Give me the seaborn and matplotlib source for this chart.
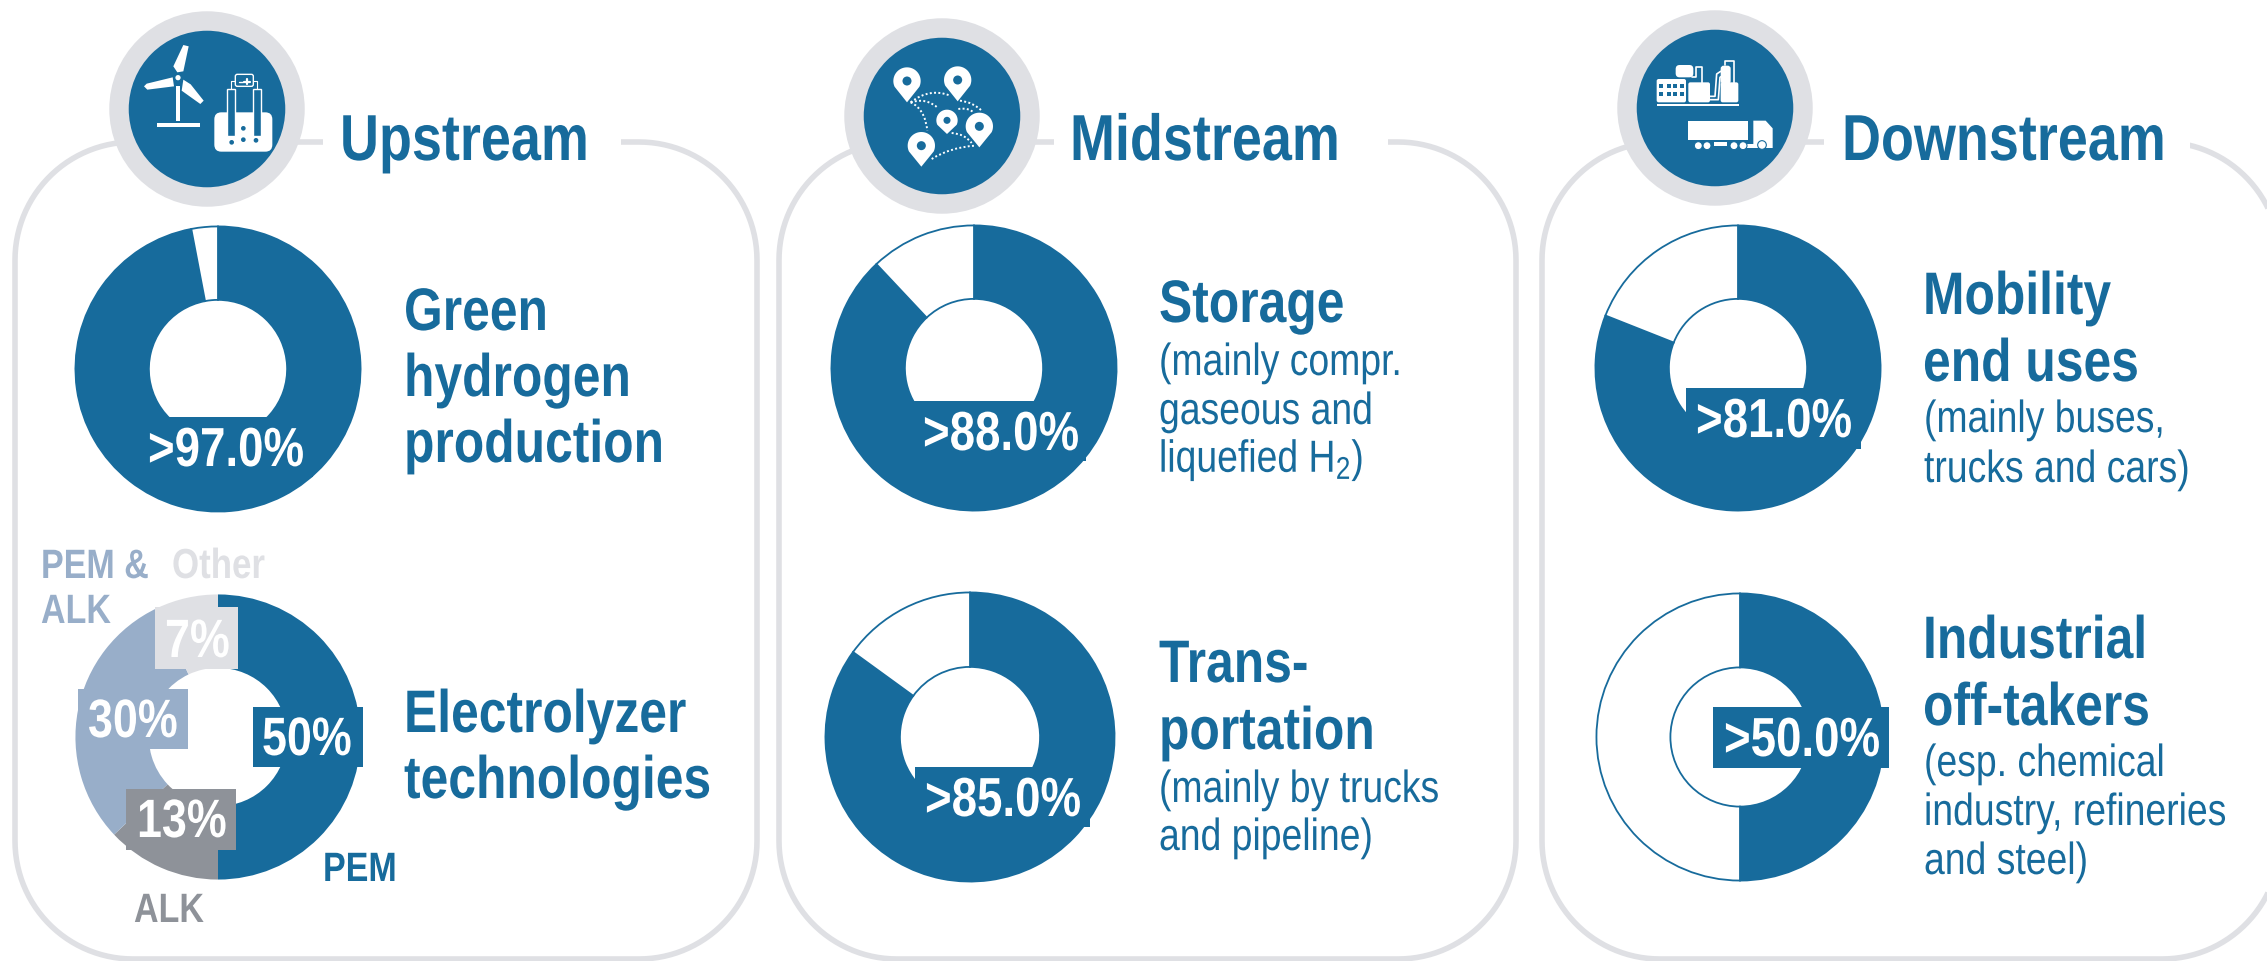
import numpy as np
import matplotlib
matplotlib.use("Agg")
import matplotlib.pyplot as plt
import seaborn as sns
import warnings
from matplotlib.patches import Circle, Rectangle, FancyBboxPatch, Polygon, PathPatch
from matplotlib.patheffects import AbstractPathEffect
from matplotlib.path import Path
from matplotlib.transforms import Affine2D
warnings.filterwarnings("ignore")

W, H = 2267, 962

# shares (clockwise from 12 o'clock)
green_h2 = [97, 3]
storage = [88, 12]
transport = [85, 15]
mobility = [81, 19]
industrial = [50, 50]
electrolyzer_names = ["PEM", "ALK", "PEM & ALK", "Other"]
electrolyzer_shares = [50, 13, 30, 7]
electrolyzer_labels = ["50%", "13%", "30%", "7%"]

sns.set_theme(style="white")
plt.rcParams['font.family'] = ['Liberation Sans', 'DejaVu Sans']
plt.rcParams['mathtext.default'] = 'regular'

BLUE = "#176B9C"
GREY = "#DFE0E4"
NARROW = 0.83  # the reference type is condensed, no narrow font here
tech_colors = sns.color_palette([BLUE, "#8E9299", "#98AEC9", GREY])

fig = plt.figure(figsize=(W / 100, H / 100), dpi=100, facecolor="white")


def pixel_axes(z):
    ax = fig.add_axes([0, 0, 1, 1], zorder=z)
    ax.set_xlim(0, W)
    ax.set_ylim(H, 0)
    ax.axis("off")
    return ax


bg = pixel_axes(0)
fg = pixel_axes(2)


class Tall(AbstractPathEffect):
    # font set at NARROW x size, glyphs stretched back up from the baseline
    def __init__(self, y0):
        super().__init__()
        self.y0 = y0

    def draw_path(self, renderer, gc, tpath, affine, rgbFace=None):
        tall = Affine2D().translate(0, -self.y0).scale(1, 1 / NARROW).translate(0, self.y0)
        renderer.draw_path(gc, tpath, affine + tall, rgbFace)


def donut(cx, cy, r, values, colors, edge=None):
    ax = fig.add_axes([(cx - r) / W, 1 - (cy + r) / H, 2 * r / W, 2 * r / H], zorder=1)
    ax.patch.set_alpha(0)
    wp = dict(width=0.51, linewidth=0)
    if edge:
        wp = dict(width=0.51, linewidth=1.3, edgecolor=edge)
    ax.pie(values, colors=colors, startangle=90, counterclock=False, radius=0.99,
           wedgeprops=wp)
    ax.set_xlim(-1, 1)
    ax.set_ylim(-1, 1)


def txt(x, y, s, size, color=BLUE, weight="bold"):
    # x = left edge, y = baseline, size in pixels
    fg.text(x, y, s, fontsize=size * 0.72 * NARROW, color=color, fontweight=weight,
            ha="left", va="baseline", path_effects=[Tall(H - y)])


def box(x0, y0, x1, y1, color=BLUE):
    fg.add_patch(Rectangle((x0, y0), x1 - x0, y1 - y0, fc=color, ec="none", zorder=1))


def panel(x0, x1, y0=143, y1=960, r=118):
    t = np.linspace(0, np.pi / 2, 30)
    c, s = r * np.cos(t), r * np.sin(t)
    xs = np.r_[x1 - r + c, x0 + r - s, x0 + r - c, x1 - r + s]
    ys = np.r_[y1 - r + s, y1 - r + c, y0 + r - s, y0 + r - c]
    bg.add_patch(Polygon(np.c_[xs, ys], closed=True, fc="none", ec=GREY, lw=4, zorder=1))


# panels
for x0, x1, gap0, gap1 in [(15, 757, 323, 621), (779, 1516, 1054, 1388), (1542, 2280, 1824, 2190)]:
    panel(x0, x1)
    bg.add_patch(Rectangle((gap0, 130), gap1 - gap0, 26, fc="white", ec="none", zorder=2))

# rings
donut(218, 370, 144, green_h2, [BLUE, "white"], edge=BLUE)
donut(218, 738, 144, electrolyzer_shares, tech_colors)
donut(974, 369, 144, storage, [BLUE, "white"], edge=BLUE)
donut(970, 738, 146, transport, [BLUE, "white"], edge=BLUE)
donut(1738, 369, 144, mobility, [BLUE, "white"], edge=BLUE)
donut(1740, 738, 145, industrial, [BLUE, "white"], edge=BLUE)

# stage headings
txt(340, 161, "Upstream", 65)
txt(1070, 161, "Midstream", 65)
txt(1842, 161, "Downstream", 65)

# value tags
box(128, 418, 313, 478)
txt(148, 467, ">97.0%", 55, "white")
box(905, 402, 1086, 462)
txt(923, 451, ">88.0%", 55, "white")
box(915, 768, 1090, 828)
txt(925, 817, ">85.0%", 55, "white")
box(1686, 389, 1861, 450)
txt(1696, 438, ">81.0%", 55, "white")
box(1713, 708, 1889, 769)
txt(1724, 757, ">50.0%", 55, "white")

tag_boxes = [(253, 708, 363, 768), (126, 790, 236, 851), (78, 690, 188, 750), (155, 608, 238, 670)]
tag_text = [(262, 756), (137, 838), (88, 738), (165, 658)]
for b, t, c, s in zip(tag_boxes, tag_text, tech_colors, electrolyzer_labels):
    box(*b, color=c)
    txt(t[0], t[1], s, 54, "white")

# ring names
txt(323, 882, electrolyzer_names[0], 41, BLUE)
txt(134, 923, electrolyzer_names[1], 41, tech_colors[1])
txt(41, 579, "PEM &", 41, tech_colors[2])
txt(41, 624, "ALK", 41, tech_colors[2])
txt(172, 579, electrolyzer_names[3], 42, tech_colors[3])

# descriptions
for y, s in [(331, "Green"), (397, "hydrogen"), (463, "production"),
             (733, "Electrolyzer"), (799, "technologies")]:
    txt(404, y, s, 60)
txt(1159, 323, "Storage", 60)
for y, s in [(376, "(mainly compr."), (425, "gaseous and"), (473, "liquefied H$_{2}$)")]:
    txt(1159, y, s, 45, weight="normal")
txt(1159, 683, "Trans-", 60)
txt(1159, 750, "portation", 60)
for y, s in [(803, "(mainly by trucks"), (851, "and pipeline)")]:
    txt(1159, y, s, 45, weight="normal")
txt(1923, 315, "Mobility", 60)
txt(1923, 382, "end uses", 60)
for y, s in [(433, "(mainly buses,"), (483, "trucks and cars)")]:
    txt(1924, y, s, 45, weight="normal")
txt(1923, 659, "Industrial", 60)
txt(1923, 726, "off-takers", 60)
for y, s in [(777, "(esp. chemical"), (826, "industry, refineries"), (875, "and steel)")]:
    txt(1924, y, s, 45, weight="normal")

# icon discs
for cx, cy in [(207, 110), (942, 117), (1715, 109)]:
    bg.add_patch(Circle((cx, cy), 88, fc=BLUE, ec=GREY, lw=14, zorder=3))


# icons, sketched in 3x crop coordinates
def rect(o, x0, y0, x1, y1, fc="white", ec="none", lw=0, rad=0):
    ox, oy = o
    xy = (ox + x0 / 3, oy + y0 / 3)
    w, h = (x1 - x0) / 3, (y1 - y0) / 3
    if rad:
        p = FancyBboxPatch((xy[0] + rad, xy[1] + rad), w - 2 * rad, h - 2 * rad,
                           boxstyle=f"round,pad={rad},rounding_size={rad}",
                           fc=fc, ec=ec, lw=lw, zorder=4)
    else:
        p = Rectangle(xy, w, h, fc=fc, ec=ec, lw=lw, zorder=4)
    bg.add_patch(p)


def poly(o, pts, fc="white"):
    pts = np.array(pts) / 3 + np.array(o)
    bg.add_patch(Polygon(pts, closed=True, fc=fc, ec="none", zorder=4))


def dot(o, x, y, r, fc=BLUE, ec="none", lw=0):
    bg.add_patch(Circle((o[0] + x / 3, o[1] + y / 3), r / 3, fc=fc, ec=ec, lw=lw, zorder=5))


def wire(o, pts, lw=1.2):
    pts = np.array(pts) / 3 + np.array(o)
    bg.plot(pts[:, 0], pts[:, 1], color="white", lw=lw, zorder=5, solid_capstyle="round")


# turbine + electrolyzer
o = (100, 10)
rect(o, 228, 232, 241, 335)
rect(o, 170, 343, 300, 353)
poly(o, [(220, 172), (250, 108), (266, 112), (250, 187), (232, 190)])
poly(o, [(132, 232), (140, 224), (218, 205), (222, 232), (142, 242)])
poly(o, [(250, 212), (272, 226), (311, 275), (301, 285), (245, 245)])
dot(o, 234, 206, 10, fc="white", ec=BLUE, lw=1)
rect(o, 343, 310, 517, 428, rad=7)
rect(o, 381, 241, 405, 382, fc=BLUE, ec="white", lw=1)
rect(o, 459, 241, 483, 382, fc=BLUE, ec="white", lw=1)
for x, y in [(395, 400), (430, 392), (468, 394), (430, 358)]:
    dot(o, x, y, 7)
rect(o, 406, 196, 460, 232, fc=BLUE, ec="white", lw=1, rad=2)
wire(o, [(392, 240), (392, 215), (406, 215)], 0.8)
wire(o, [(471, 240), (471, 215), (460, 215)], 0.8)
wire(o, [(417, 218), (428, 218)], 1.0)
wire(o, [(433, 218), (449, 218)], 1.6)
wire(o, [(441, 210), (441, 226)], 1.6)

# pins and routes
o = (840, 20)
routes = [[(212, 250), (270, 205), (330, 230)], [(212, 250), (260, 235), (295, 268)],
          [(212, 250), (255, 270), (262, 335)], [(360, 245), (400, 250), (425, 275)],
          [(355, 270), (385, 265), (400, 280)], [(335, 342), (375, 345), (395, 372)],
          [(275, 420), (330, 385), (405, 380)]]
for rt in routes:
    pts = np.array(rt) / 3 + np.array(o)
    bg.add_patch(PathPatch(Path(pts, [Path.MOVETO, Path.CURVE3, Path.CURVE3]), fc="none",
                           ec="white", lw=1.4, ls=(0, (1, 1.2)), zorder=4))
for cx, cy, r, tip in [(201, 186, 41, 250), (353, 183, 41, 247), (321, 304, 32, 345),
                       (418, 322, 41, 385), (244, 380, 41, 443)]:
    a = np.radians(np.linspace(-25, 205, 40))
    arc = [(cx + r * np.cos(t), cy - r * np.sin(t)) for t in a]
    poly(o, arc + [(cx, tip)])
    dot(o, cx, cy, r * 0.33)

# factory and truck
o = (1620, 10)
rect(o, 110, 285, 356, 292)
rect(o, 110, 210, 198, 280, rad=2)
for wy in (225, 250):
    for wx in (118, 140, 160, 180):
        rect(o, wx, wy, wx + 12, wy + 12, fc=BLUE)
rect(o, 205, 220, 270, 280, rad=2)
rect(o, 167, 168, 220, 205, rad=4)
wire(o, [(215, 205), (228, 205), (228, 175), (245, 175), (245, 222)], 1.2)
rect(o, 302, 220, 355, 280, rad=2)
rect(o, 302, 170, 332, 225, rad=3)
wire(o, [(315, 168), (315, 155), (342, 155), (342, 222)], 1.2)
wire(o, [(270, 262), (285, 262), (290, 195), (302, 187)], 1.2)
wire(o, [(270, 272), (295, 272), (300, 205), (303, 203)], 1.2)
rect(o, 205, 335, 383, 393)
poly(o, [(400, 335), (437, 335), (458, 358), (458, 417), (372, 417), (372, 405), (400, 405)])
rect(o, 281, 400, 320, 411)
for x in (235, 261, 342, 369):
    dot(o, x, 410, 12, fc="white", ec=BLUE, lw=0.8)
dot(o, 426, 408, 13, fc="white", ec=BLUE, lw=0.8)

plt.savefig("out.png", dpi=100)
